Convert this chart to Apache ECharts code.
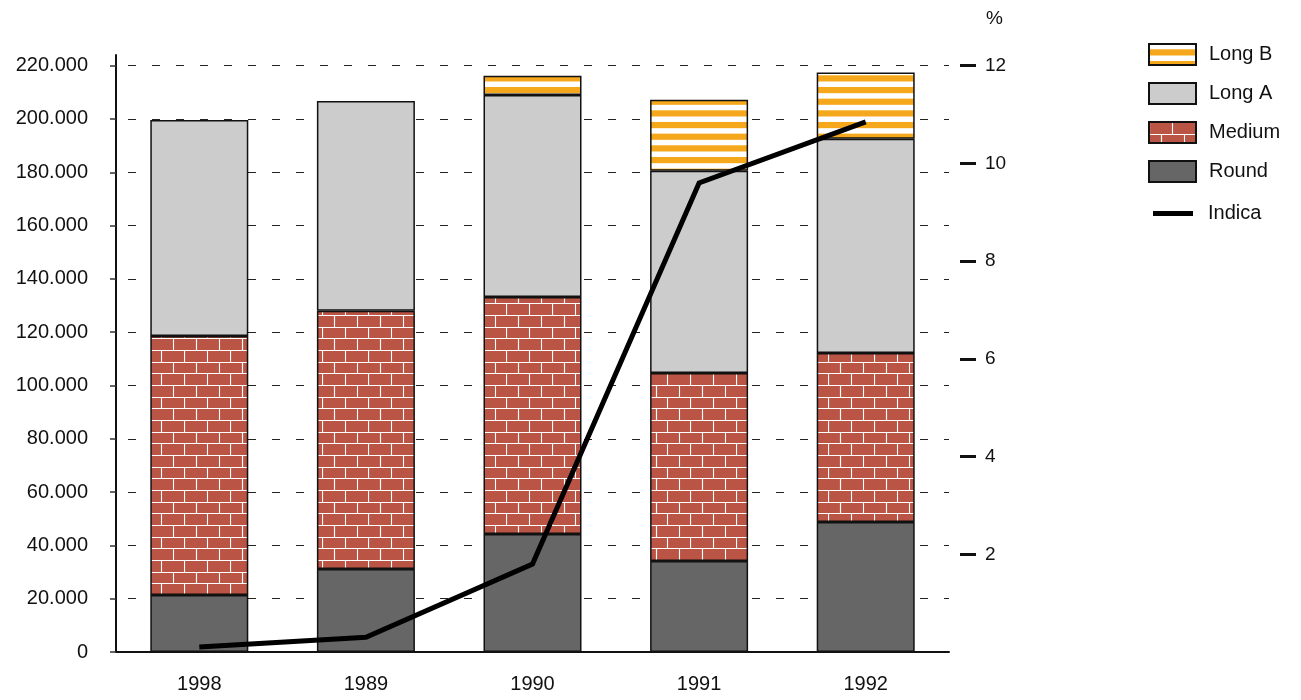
<!DOCTYPE html>
<html>
<head>
<meta charset="utf-8">
<script src="https://cdn.jsdelivr.net/npm/echarts@6/dist/echarts.min.js"></script>
<style>
  html, body { margin: 0; padding: 0; background: #fff; }
  #chart { width: 1301px; height: 700px; }
</style>
</head>
<body>
<div id="chart"></div>
<script>
// Rice production by grain type (tonnes) and Indica share (%)
const years = ['1998', '1989', '1990', '1991', '1992'];
const round = [21400, 31100, 44300, 34100, 48800];
const medium = [97200, 96900, 88900, 70600, 63400];
const longA = [81000, 78700, 75800, 75900, 80400];
const longB = [null, null, 7200, 26600, 24800];
const indica = [0.1, 0.3, 1.8, 9.6, 10.85];
const leftTicks = [0, 20000, 40000, 60000, 80000, 100000, 120000, 140000, 160000, 180000, 200000, 220000];
const rightTicks = [2, 4, 6, 8, 10, 12];

const FONT = '"Liberation Sans", Arial, Helvetica, sans-serif';

function thousands(v) {
  return String(v).replace(/\B(?=(\d{3})+(?!\d))/g, '.');
}

// brick fill: red bricks with white mortar, alternating half-offset rows
function brickPattern() {
  const w = 46, rows = 6, h = 70, rh = h / rows, bw = 23;
  const c = document.createElement('canvas');
  c.width = w; c.height = h;
  const g = c.getContext('2d');
  g.fillStyle = '#ba5444';
  g.fillRect(0, 0, w, h);
  g.strokeStyle = '#ffffff';
  g.lineWidth = 1.1;
  for (let r = 0; r < rows; r++) {
    const y = Math.round(r * rh) + 0.5;
    g.beginPath(); g.moveTo(0, y); g.lineTo(w, y); g.stroke();
    const off = (r % 2) ? bw / 2 : 0;
    for (let x = off; x < w + bw; x += bw) {
      const xx = Math.round(x % w) + 0.5;
      g.beginPath();
      g.moveTo(xx, Math.round(r * rh));
      g.lineTo(xx, Math.round((r + 1) * rh));
      g.stroke();
    }
  }
  return c;
}

// horizontal orange / white stripes
function stripePattern() {
  const w = 8, h = 35, period = h / 3;
  const c = document.createElement('canvas');
  c.width = w; c.height = h;
  const g = c.getContext('2d');
  g.fillStyle = '#ffffff';
  g.fillRect(0, 0, w, h);
  g.fillStyle = '#f6a81c';
  for (let i = 0; i < 3; i++) {
    g.fillRect(0, i * period + 5.3, w, 6.2);
  }
  return c;
}

const brick = { image: brickPattern(), repeat: 'repeat' };
const stripes = { image: stripePattern(), repeat: 'repeat' };

const barBorder = { borderColor: '#111', borderWidth: 1.5 };

function barSeries(name, data, color) {
  return {
    name: name,
    type: 'bar',
    stack: 'rice',
    data: data,
    barWidth: 98,
    itemStyle: Object.assign({ color: color }, barBorder),
    emphasis: { disabled: true }
  };
}

const chart = echarts.init(document.getElementById('chart'), null, { renderer: 'canvas' });

chart.setOption({
  animation: false,
  backgroundColor: '#ffffff',
  textStyle: { fontFamily: FONT, color: '#111' },
  grid: { left: 116, right: 352, top: 55, bottom: 48, containLabel: false },
  legend: [
    {
      data: ['Long B', 'Long A', 'Medium', 'Round'].map(n => ({ name: n, icon: 'rect' })),
      orient: 'vertical',
      left: 1143,
      top: 38,
      itemWidth: 47,
      itemHeight: 21,
      itemGap: 16,
      selectedMode: false,
      textStyle: { fontFamily: FONT, fontSize: 20, lineHeight: 21, color: '#111', padding: [0, 0, 0, 8] }
    },
    {
      data: [{ name: 'Indica', icon: 'rect', itemStyle: { borderWidth: 0 } }],
      orient: 'vertical',
      left: 1148,
      top: 198,
      itemWidth: 40,
      itemHeight: 5,
      selectedMode: false,
      textStyle: { fontFamily: FONT, fontSize: 20, lineHeight: 21, color: '#111', padding: [0, 0, 0, 10] }
    }
  ],
  xAxis: {
    type: 'category',
    data: years,
    axisLine: { show: true, lineStyle: { color: '#111', width: 2 } },
    axisTick: { show: false },
    axisLabel: { fontFamily: FONT, fontSize: 20, color: '#111', margin: 22 },
    splitLine: { show: false }
  },
  yAxis: [
    {
      type: 'value',
      min: 0,
      max: 224000,
      axisLine: { show: true, lineStyle: { color: '#111', width: 2 } },
      axisTick: { show: true, inside: false, length: 6, lineStyle: { color: '#333', width: 1.5 }, customValues: leftTicks },
      axisLabel: { fontFamily: FONT, fontSize: 20, color: '#111', margin: 28, formatter: thousands, customValues: leftTicks },
      splitLine: { show: true, lineStyle: { color: '#222', width: 1, type: [8, 16], dashOffset: 12 } }
    },
    {
      type: 'value',
      position: 'right',
      offset: 11,
      min: 0,
      max: 12 * 224000 / 220000,
      name: '%',
      nameLocation: 'end',
      nameGap: 27,
      nameTextStyle: { fontFamily: FONT, fontSize: 19, color: '#111', align: 'left', padding: [0, 0, 0, 26] },
      axisLine: { show: false },
      axisTick: { show: true, length: 16, lineStyle: { color: '#111', width: 3 }, customValues: rightTicks },
      axisLabel: { fontFamily: FONT, fontSize: 19, color: '#111', margin: 25, customValues: rightTicks },
      splitLine: { show: false }
    }
  ],
  series: [
    barSeries('Round', round, '#666666'),
    barSeries('Medium', medium, brick),
    barSeries('Long A', longA, '#cccccc'),
    barSeries('Long B', longB, stripes),
    {
      name: 'Indica',
      type: 'line',
      yAxisIndex: 1,
      data: indica,
      symbol: 'none',
      showSymbol: false,
      z: 10,
      itemStyle: { color: '#000' },
      lineStyle: { color: '#000', width: 5, join: 'miter' },
      emphasis: { disabled: true }
    }
  ]
});
</script>
</body>
</html>
